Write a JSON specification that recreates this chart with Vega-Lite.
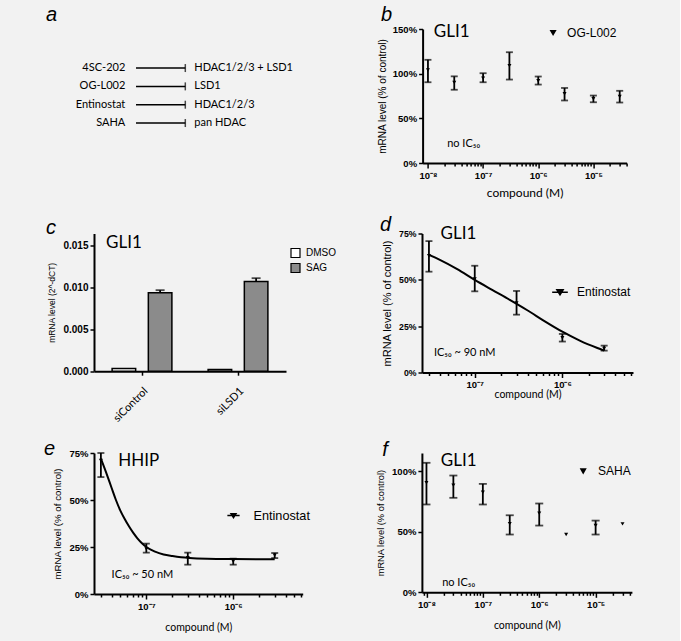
{
"$schema": "https://vega.github.io/schema/vega-lite/v6.json",
"background": "#f2f2f2",
"padding": {"left": 43, "top": 4, "right": 47, "bottom": 9},
"spacing": 15.5,
"resolve": {"scale": {"color": "independent", "x": "independent", "y": "independent"}, "legend": {"color": "independent"}},
"config": {
 "view": {"stroke": null},
 "font": "Liberation Sans",
 "axis": {"domainColor": "black", "domainWidth": 2, "tickColor": "black", "tickWidth": 1.5, "tickSize": 4, "labelFont": "Liberation Sans", "labelFontWeight": "bold", "labelFontSize": 9.5, "labelColor": "black", "labelPadding": 2, "titleFont": "Liberation Sans", "titleFontWeight": "normal", "titleFontSize": 10, "titleColor": "black", "grid": false},
 "legend": {"labelColor": "black", "labelFont": "Liberation Sans", "padding": 0}
},
"datasets": {
 "a": [
  {"compound": "4SC-202", "target": "HDAC1/2/3 + LSD1", "order": 1},
  {"compound": "OG-L002", "target": "LSD1", "order": 2},
  {"compound": "Entinostat", "target": "HDAC1/2/3", "order": 3},
  {"compound": "SAHA", "target": "pan HDAC", "order": 4}
 ],
 "b": [
  {"compound": "OG-L002", "conc": 1e-8, "mean": 104, "lo": 90.4, "hi": 115.5},
  {"compound": "OG-L002", "conc": 3e-8, "mean": 90, "lo": 82, "hi": 97},
  {"compound": "OG-L002", "conc": 1e-7, "mean": 95, "lo": 90.4, "hi": 100.5},
  {"compound": "OG-L002", "conc": 3e-7, "mean": 109, "lo": 93.4, "hi": 124},
  {"compound": "OG-L002", "conc": 1e-6, "mean": 92, "lo": 87.8, "hi": 96.8},
  {"compound": "OG-L002", "conc": 3e-6, "mean": 77.5, "lo": 70, "hi": 84},
  {"compound": "OG-L002", "conc": 1e-5, "mean": 72, "lo": 68, "hi": 75.5},
  {"compound": "OG-L002", "conc": 3e-5, "mean": 74.5, "lo": 67.7, "hi": 80.8}
 ],
 "c": [
  {"group": "siControl", "treatment": "DMSO", "value": 0.00032},
  {"group": "siControl", "treatment": "SAG", "value": 0.00935, "hi": 0.00967},
  {"group": "siLSD1", "treatment": "DMSO", "value": 0.0002},
  {"group": "siLSD1", "treatment": "SAG", "value": 0.0107, "hi": 0.0111}
 ],
 "d": [
  {"compound": "Entinostat", "conc": 3e-8, "mean": 63, "lo": 54.4, "hi": 70.9},
  {"compound": "Entinostat", "conc": 1e-7, "mean": 50.5, "lo": 43.8, "hi": 57.6},
  {"compound": "Entinostat", "conc": 3e-7, "mean": 37.5, "lo": 31.2, "hi": 44},
  {"compound": "Entinostat", "conc": 1e-6, "mean": 18.7, "lo": 16.7, "hi": 20.8},
  {"compound": "Entinostat", "conc": 3e-6, "mean": 13, "lo": 11.8, "hi": 14.5}
 ],
 "dcurve": [
  {"compound": "Entinostat", "conc": 3e-8, "fit": 63.5}, {"compound": "Entinostat", "conc": 4e-8, "fit": 60.8}, {"compound": "Entinostat", "conc": 6.31e-8, "fit": 55.8},
  {"compound": "Entinostat", "conc": 1e-7, "fit": 50}, {"compound": "Entinostat", "conc": 1.58e-7, "fit": 44.6}, {"compound": "Entinostat", "conc": 2.51e-7, "fit": 39.2},
  {"compound": "Entinostat", "conc": 3.98e-7, "fit": 33.6}, {"compound": "Entinostat", "conc": 6.31e-7, "fit": 27.6}, {"compound": "Entinostat", "conc": 1e-6, "fit": 22},
  {"compound": "Entinostat", "conc": 1.58e-6, "fit": 17.2}, {"compound": "Entinostat", "conc": 2.51e-6, "fit": 13.2}, {"compound": "Entinostat", "conc": 3e-6, "fit": 11.8}
 ],
 "e": [
  {"compound": "Entinostat", "conc": 3e-8, "mean": 71, "lo": 62.2, "hi": 75},
  {"compound": "Entinostat", "conc": 1e-7, "mean": 24, "lo": 22, "hi": 26.8},
  {"compound": "Entinostat", "conc": 3e-7, "mean": 19.3, "lo": 15.6, "hi": 22},
  {"compound": "Entinostat", "conc": 1e-6, "mean": 17.4, "lo": 15.6, "hi": 18.8},
  {"compound": "Entinostat", "conc": 3e-6, "mean": 20.6, "lo": 19.1, "hi": 21.8}
 ],
 "ecurve": [
  {"compound": "Entinostat", "conc": 3e-8, "fit": 72}, {"compound": "Entinostat", "conc": 3.55e-8, "fit": 63}, {"compound": "Entinostat", "conc": 3.98e-8, "fit": 56.5},
  {"compound": "Entinostat", "conc": 4.47e-8, "fit": 50}, {"compound": "Entinostat", "conc": 5.01e-8, "fit": 44.5}, {"compound": "Entinostat", "conc": 5.62e-8, "fit": 40},
  {"compound": "Entinostat", "conc": 6.31e-8, "fit": 36}, {"compound": "Entinostat", "conc": 7.08e-8, "fit": 32.5}, {"compound": "Entinostat", "conc": 7.94e-8, "fit": 29.5},
  {"compound": "Entinostat", "conc": 8.91e-8, "fit": 27}, {"compound": "Entinostat", "conc": 1e-7, "fit": 25}, {"compound": "Entinostat", "conc": 1.26e-7, "fit": 22.5},
  {"compound": "Entinostat", "conc": 1.58e-7, "fit": 21}, {"compound": "Entinostat", "conc": 2e-7, "fit": 20.2}, {"compound": "Entinostat", "conc": 2.51e-7, "fit": 19.6},
  {"compound": "Entinostat", "conc": 3.16e-7, "fit": 19.2}, {"compound": "Entinostat", "conc": 5.01e-7, "fit": 18.8}, {"compound": "Entinostat", "conc": 1e-6, "fit": 18.6},
  {"compound": "Entinostat", "conc": 3e-6, "fit": 18.5}
 ],
 "f": [
  {"compound": "SAHA", "conc": 1e-8, "mean": 90.4, "lo": 72.5, "hi": 106.9},
  {"compound": "SAHA", "conc": 3e-8, "mean": 88.4, "lo": 78, "hi": 96.4},
  {"compound": "SAHA", "conc": 1e-7, "mean": 82.6, "lo": 72.5, "hi": 89.5},
  {"compound": "SAHA", "conc": 3e-7, "mean": 56.7, "lo": 47.7, "hi": 63.6},
  {"compound": "SAHA", "conc": 1e-6, "mean": 65.3, "lo": 55.1, "hi": 73.3},
  {"compound": "SAHA", "conc": 3e-6, "mean": 47.7},
  {"compound": "SAHA", "conc": 1e-5, "mean": 55.1, "lo": 47.7, "hi": 59.2},
  {"compound": "SAHA", "conc": 3e-5, "mean": 56.5}
 ]
},
"vconcat": [
 {
  "spacing": 46.6,
  "resolve": {"scale": {"color": "independent", "x": "independent", "y": "independent"}, "legend": {"color": "independent"}},
  "hconcat": [
   {
    "width": 236, "height": 134,
    "layer": [
     {"data": {"name": "a"},
      "mark": {"type": "text", "align": "right", "baseline": "middle", "font": "Lato", "fontSize": 11, "color": "black"},
      "encoding": {"x": {"datum": 1.326, "type": "quantitative", "scale": {"domain": [0, 10], "nice": false, "zero": false}, "axis": null},
       "y": {"field": "order", "type": "quantitative", "scale": {"domain": [6.18, -1.13], "nice": false, "zero": false}, "axis": null},
       "text": {"field": "compound"}}},
     {"data": {"name": "a"},
      "mark": {"type": "rule", "strokeWidth": 1.5, "color": "black"},
      "encoding": {"x": {"datum": 1.78, "type": "quantitative"}, "x2": {"datum": 3.869}, "y": {"field": "order", "type": "quantitative"}}},
     {"data": {"name": "a"},
      "mark": {"type": "tick", "orient": "vertical", "size": 8, "thickness": 1.5, "color": "black"},
      "encoding": {"x": {"datum": 3.869, "type": "quantitative"}, "y": {"field": "order", "type": "quantitative"}}},
     {"data": {"name": "a"},
      "mark": {"type": "text", "align": "left", "baseline": "middle", "font": "Lato", "fontSize": 11, "color": "black"},
      "encoding": {"x": {"datum": 4.25, "type": "quantitative"}, "y": {"field": "order", "type": "quantitative"}, "text": {"field": "target"}}},
     {"data": {"values": [{"t": "a"}]},
      "mark": {"type": "text", "align": "left", "baseline": "alphabetic", "font": "Liberation Sans", "fontStyle": "italic", "fontSize": 20, "color": "black"},
      "encoding": {"x": {"datum": -2.034, "type": "quantitative"}, "y": {"datum": -1.566, "type": "quantitative"}, "text": {"field": "t"}}}
    ]
   },
   {
    "width": 204, "height": 134,
    "resolve": {"scale": {"x": "independent"}},
    "layer": [
     {
      "data": {"name": "b"},
      "encoding": {"x": {"field": "conc", "type": "quantitative", "scale": {"type": "log", "domain": [8e-9, 4e-5], "nice": false},
        "axis": {"title": "compound (M)", "titleFont": "Lato", "titleFontSize": 12, "titlePadding": 8, "labelOverlap": false, "labelFlush": false,
         "values": [1e-8,2e-8,3e-8,4e-8,5e-8,6e-8,7e-8,8e-8,9e-8,1e-7,2e-7,3e-7,4e-7,5e-7,6e-7,7e-7,8e-7,9e-7,1e-6,2e-6,3e-6,4e-6,5e-6,6e-6,7e-6,8e-6,9e-6,1e-5,2e-5,3e-5,4e-5],
         "labelExpr": "datum.value == 1e-8 ? '10⁻⁸' : datum.value == 1e-7 ? '10⁻⁷' : datum.value == 1e-6 ? '10⁻⁶' : datum.value == 1e-5 ? '10⁻⁵' : ''",
         "tickSize": {"condition": {"test": "datum.value == 1e-8 || datum.value == 1e-7 || datum.value == 1e-6 || datum.value == 1e-5", "value": 5}, "value": 3}}}},
      "layer": [
       {"mark": {"type": "point", "shape": "triangle-down", "filled": true, "size": 16, "opacity": 1},
        "encoding": {"y": {"field": "mean", "type": "quantitative", "title": "mRNA level (% of control)", "scale": {"domain": [0, 150], "nice": false},
          "axis": {"title": "mRNA level (% of control)", "values": [0,25,50,75,100,125,150], "labelExpr": "datum.value + '%'", "titlePadding": 5}},
         "color": {"field": "compound", "type": "nominal", "scale": {"range": ["black"]},
          "legend": {"title": null, "orient": "none", "legendX": 124.5, "legendY": -2, "symbolType": "triangle-down", "symbolSize": 50, "labelFontSize": 12, "labelOffset": 8}}}},
       {"mark": {"type": "rule", "strokeWidth": 1.8, "color": "black"},
        "encoding": {"y": {"field": "lo", "type": "quantitative", "title": "mRNA level (% of control)"}, "y2": {"field": "hi"}}},
       {"mark": {"type": "tick", "orient": "horizontal", "size": 7, "thickness": 1.8, "color": "black"},
        "encoding": {"y": {"field": "lo", "type": "quantitative", "title": "mRNA level (% of control)"}}},
       {"mark": {"type": "tick", "orient": "horizontal", "size": 7, "thickness": 1.8, "color": "black"},
        "encoding": {"y": {"field": "hi", "type": "quantitative", "title": "mRNA level (% of control)"}}}
      ]
     },
     {
      "layer": [
       {"data": {"values": [{"t": "GLI1"}]},
        "mark": {"type": "text", "align": "left", "baseline": "middle", "font": "Lato", "fontSize": 17, "color": "black"},
        "encoding": {"x": {"datum": -7.893, "type": "quantitative", "scale": {"domain": [-8.0969, -4.3979], "nice": false, "zero": false}, "axis": null}, "y": {"datum": 146.6, "type": "quantitative"}, "text": {"field": "t"}}},
       {"data": {"values": [{"t": "no IC₅₀"}]},
        "mark": {"type": "text", "align": "left", "baseline": "middle", "font": "Lato", "fontSize": 11, "color": "black"},
        "encoding": {"x": {"datum": -7.652, "type": "quantitative"}, "y": {"datum": 21.3, "type": "quantitative"}, "text": {"field": "t"}}},
       {"data": {"values": [{"t": "b"}]},
        "mark": {"type": "text", "align": "left", "baseline": "alphabetic", "font": "Liberation Sans", "fontStyle": "italic", "fontSize": 20, "color": "black"},
        "encoding": {"x": {"datum": -8.853, "type": "quantitative"}, "y": {"datum": 158.96, "type": "quantitative"}, "text": {"field": "t"}}}
      ]
     }
    ]
   }
  ]
 },
 {
  "spacing": 43,
  "resolve": {"scale": {"color": "independent", "x": "independent", "y": "independent"}, "legend": {"color": "independent"}},
  "hconcat": [
   {
    "width": 192, "height": 137.7,
    "resolve": {"scale": {"x": "independent"}},
    "layer": [
     {
      "layer": [
       {"data": {"name": "c"},
        "mark": {"type": "bar", "stroke": "black", "strokeWidth": 1.5},
        "encoding": {
         "x": {"field": "group", "type": "nominal", "sort": ["siControl", "siLSD1"], "scale": {"paddingInner": 0, "paddingOuter": 0},
          "axis": {"title": null, "labelAngle": -45, "labelFont": "Lato", "labelFontSize": 11, "labelFontWeight": "normal", "labelPadding": 9.7}},
         "xOffset": {"field": "treatment", "type": "nominal", "sort": ["DMSO", "SAG"], "scale": {"paddingInner": 0.35, "paddingOuter": 0.5}},
         "y": {"field": "value", "type": "quantitative", "scale": {"domain": [0, 0.016432], "nice": false},
          "axis": {"title": "mRNA level (2^-dCT)", "titleFontSize": 8.5, "values": [0, 0.005, 0.01, 0.015], "format": ".3f", "labelFontSize": 10, "titlePadding": 6}},
         "color": {"field": "treatment", "type": "nominal", "scale": {"domain": ["DMSO", "SAG"], "range": ["white", "#8b8b8b"]},
          "legend": {"title": null, "orient": "none", "legendX": 196, "legendY": 14, "symbolType": "square", "symbolSize": 81, "symbolStrokeColor": "black", "symbolStrokeWidth": 1.2, "labelFontSize": 10, "labelOffset": 5, "rowPadding": 0,
           "encode": {"symbols": {"update": {"stroke": {"value": "black"}, "strokeWidth": {"value": 1.2}}}}}}
        }},
       {"data": {"name": "c"}, "transform": [{"filter": "isValid(datum.hi)"}],
        "mark": {"type": "rule", "strokeWidth": 1.8, "color": "black"},
        "encoding": {"x": {"field": "group", "type": "nominal"}, "xOffset": {"field": "treatment", "type": "nominal"},
         "y": {"field": "value", "type": "quantitative"}, "y2": {"field": "hi"}}},
       {"data": {"name": "c"}, "transform": [{"filter": "isValid(datum.hi)"}],
        "mark": {"type": "tick", "orient": "horizontal", "size": 9, "thickness": 1.8, "color": "black"},
        "encoding": {"x": {"field": "group", "type": "nominal"}, "xOffset": {"field": "treatment", "type": "nominal"},
         "y": {"field": "hi", "type": "quantitative"}}},
       {"data": {"values": [{"t": "GLI1"}]},
        "mark": {"type": "text", "align": "center", "baseline": "middle", "font": "Lato", "fontSize": 17, "color": "black"},
        "encoding": {"x": {"datum": "siControl", "type": "nominal"}, "xOffset": {"datum": "DMSO", "type": "nominal"}, "y": {"datum": 0.01527, "type": "quantitative"}, "text": {"field": "t"}}}
      ]
     },
     {"data": {"values": [{"t": "c"}]},
      "mark": {"type": "text", "align": "left", "baseline": "alphabetic", "font": "Liberation Sans", "fontStyle": "italic", "fontSize": 20, "color": "black"},
      "encoding": {"x": {"datum": -2.5, "type": "quantitative", "scale": {"domain": [0, 10], "nice": false, "zero": false}, "axis": null}, "y": {"datum": 0.016408, "type": "quantitative"}, "text": {"field": "t"}}}
    ]
   },
   {
    "width": 211, "height": 139,
    "resolve": {"scale": {"x": "independent"}},
    "layer": [
     {
      "data": {"name": "d"},
      "encoding": {"x": {"field": "conc", "type": "quantitative", "scale": {"type": "log", "domain": [2.5e-8, 6.4e-6], "nice": false},
        "axis": {"title": "compound (M)", "titleFont": "Lato", "titleFontSize": 10.5, "titlePadding": 0, "labelOverlap": false, "labelFlush": false,
         "values": [3e-8,4e-8,5e-8,6e-8,7e-8,8e-8,9e-8,1e-7,2e-7,3e-7,4e-7,5e-7,6e-7,7e-7,8e-7,9e-7,1e-6,2e-6,3e-6,4e-6,5e-6,6e-6],
         "labelExpr": "datum.value == 1e-7 ? '10⁻⁷' : datum.value == 1e-6 ? '10⁻⁶' : ''",
         "tickSize": {"condition": {"test": "datum.value == 1e-7 || datum.value == 1e-6", "value": 5}, "value": 3}}}},
      "layer": [
       {"data": {"name": "dcurve"},
        "mark": {"type": "line", "color": "black", "strokeWidth": 2, "interpolate": "monotone"},
        "encoding": {"y": {"field": "fit", "type": "quantitative", "title": "mRNA level (% of control)", "scale": {"domain": [0, 75], "nice": false},
          "axis": {"title": "mRNA level (% of control)", "titleFontSize": 11, "labelFontSize": 8.7, "values": [0,25,50,75], "labelExpr": "datum.value + '%'", "titlePadding": 6}},
         "color": {"field": "compound", "type": "nominal", "scale": {"range": ["black"]},
          "legend": {"title": null, "orient": "none", "legendX": 129, "legendY": 49.7, "symbolType": "M-1,0H1M-0.4,-0.3H0.4L0,0.35Z", "symbolSize": 245, "symbolStrokeWidth": 1.5, "symbolStrokeColor": "black", "symbolFillColor": "black", "labelFontSize": 12, "labelOffset": 8,
           "encode": {"symbols": {"update": {"stroke": {"value": "black"}, "strokeWidth": {"value": 1.5}, "fill": {"value": "black"}}}}}}}},
       {"mark": {"type": "rule", "strokeWidth": 1.8, "color": "black"},
        "encoding": {"y": {"field": "lo", "type": "quantitative", "title": "mRNA level (% of control)"}, "y2": {"field": "hi"}}},
       {"mark": {"type": "tick", "orient": "horizontal", "size": 7, "thickness": 1.8, "color": "black"},
        "encoding": {"y": {"field": "lo", "type": "quantitative", "title": "mRNA level (% of control)"}}},
       {"mark": {"type": "tick", "orient": "horizontal", "size": 7, "thickness": 1.8, "color": "black"},
        "encoding": {"y": {"field": "hi", "type": "quantitative", "title": "mRNA level (% of control)"}}},
       {"mark": {"type": "point", "shape": "triangle-down", "filled": true, "size": 16, "opacity": 1, "color": "black"},
        "encoding": {"y": {"field": "mean", "type": "quantitative", "title": "mRNA level (% of control)"}}}
      ]
     },
     {
      "layer": [
       {"data": {"values": [{"t": "GLI1"}]},
        "mark": {"type": "text", "align": "left", "baseline": "middle", "font": "Lato", "fontSize": 17, "color": "black"},
        "encoding": {"x": {"datum": -7.39, "type": "quantitative", "scale": {"domain": [-7.6021, -5.1938], "nice": false, "zero": false}, "axis": null}, "y": {"datum": 74.6, "type": "quantitative"}, "text": {"field": "t"}}},
       {"data": {"values": [{"t": "IC₅₀ ~ 90 nM"}]},
        "mark": {"type": "text", "align": "left", "baseline": "middle", "font": "Lato", "fontSize": 11, "color": "black"},
        "encoding": {"x": {"datum": -7.466, "type": "quantitative"}, "y": {"datum": 10.6, "type": "quantitative"}, "text": {"field": "t"}}},
       {"data": {"values": [{"t": "d"}]},
        "mark": {"type": "text", "align": "left", "baseline": "alphabetic", "font": "Liberation Sans", "fontStyle": "italic", "fontSize": 20, "color": "black"},
        "encoding": {"x": {"datum": -8.0816, "type": "quantitative"}, "y": {"datum": 76.4, "type": "quantitative"}, "text": {"field": "t"}}}
      ]
     }
    ]
   }
  ]
 },
 {
  "spacing": 64.9,
  "resolve": {"scale": {"color": "independent", "x": "independent", "y": "independent"}, "legend": {"color": "independent"}},
  "hconcat": [
   {
    "width": 208.7, "height": 141,
    "resolve": {"scale": {"x": "independent"}},
    "layer": [
     {
      "data": {"name": "e"},
      "encoding": {"x": {"field": "conc", "type": "quantitative", "scale": {"type": "log", "domain": [2.5e-8, 6.3e-6], "nice": false},
        "axis": {"title": "compound (M)", "titleFont": "Lato", "titleFontSize": 10.5, "titlePadding": 12, "labelOverlap": false, "labelFlush": false,
         "values": [3e-8,4e-8,5e-8,6e-8,7e-8,8e-8,9e-8,1e-7,2e-7,3e-7,4e-7,5e-7,6e-7,7e-7,8e-7,9e-7,1e-6,2e-6,3e-6,4e-6,5e-6,6e-6],
         "labelExpr": "datum.value == 1e-7 ? '10⁻⁷' : datum.value == 1e-6 ? '10⁻⁶' : ''",
         "tickSize": {"condition": {"test": "datum.value == 1e-7 || datum.value == 1e-6", "value": 5}, "value": 3}}}},
      "layer": [
       {"data": {"name": "ecurve"},
        "mark": {"type": "line", "color": "black", "strokeWidth": 2, "interpolate": "monotone"},
        "encoding": {"y": {"field": "fit", "type": "quantitative", "title": "mRNA level (% of control)", "scale": {"domain": [0, 75], "nice": false},
          "axis": {"title": "mRNA level (% of control)", "titleFontSize": 9.7, "values": [0,25,50,75], "labelExpr": "datum.value + '%'", "titlePadding": 6}},
         "color": {"field": "compound", "type": "nominal", "scale": {"range": ["black"]},
          "legend": {"title": null, "orient": "none", "legendX": 132.5, "legendY": 55.5, "symbolType": "M-1,0H1M-0.4,-0.3H0.4L0,0.35Z", "symbolSize": 150, "symbolStrokeWidth": 1.5, "symbolStrokeColor": "black", "symbolFillColor": "black", "labelFontSize": 12.7, "labelOffset": 13,
           "encode": {"symbols": {"update": {"stroke": {"value": "black"}, "strokeWidth": {"value": 1.5}, "fill": {"value": "black"}}}}}}}},
       {"mark": {"type": "rule", "strokeWidth": 1.8, "color": "black"},
        "encoding": {"y": {"field": "lo", "type": "quantitative", "title": "mRNA level (% of control)"}, "y2": {"field": "hi"}}},
       {"mark": {"type": "tick", "orient": "horizontal", "size": 7, "thickness": 1.8, "color": "black"},
        "encoding": {"y": {"field": "lo", "type": "quantitative", "title": "mRNA level (% of control)"}}},
       {"mark": {"type": "tick", "orient": "horizontal", "size": 7, "thickness": 1.8, "color": "black"},
        "encoding": {"y": {"field": "hi", "type": "quantitative", "title": "mRNA level (% of control)"}}},
       {"mark": {"type": "point", "shape": "triangle-down", "filled": true, "size": 16, "opacity": 1, "color": "black"},
        "encoding": {"y": {"field": "mean", "type": "quantitative", "title": "mRNA level (% of control)"}}}
      ]
     },
     {
      "layer": [
       {"data": {"values": [{"t": "HHIP"}]},
        "mark": {"type": "text", "align": "left", "baseline": "middle", "font": "Lato", "fontSize": 17, "color": "black"},
        "encoding": {"x": {"datum": -7.324, "type": "quantitative", "scale": {"domain": [-7.6021, -5.2007], "nice": false, "zero": false}, "axis": null}, "y": {"datum": 70.9, "type": "quantitative"}, "text": {"field": "t"}}},
       {"data": {"values": [{"t": "IC₅₀ ~ 50 nM"}]},
        "mark": {"type": "text", "align": "left", "baseline": "middle", "font": "Lato", "fontSize": 11, "color": "black"},
        "encoding": {"x": {"datum": -7.40, "type": "quantitative"}, "y": {"datum": 9.9, "type": "quantitative"}, "text": {"field": "t"}}},
       {"data": {"values": [{"t": "e"}]},
        "mark": {"type": "text", "align": "left", "baseline": "alphabetic", "font": "Liberation Sans", "fontStyle": "italic", "fontSize": 20, "color": "black"},
        "encoding": {"x": {"datum": -8.1775, "type": "quantitative"}, "y": {"datum": 73.72, "type": "quantitative"}, "text": {"field": "t"}}}
      ]
     }
    ]
   },
   {
    "width": 210, "height": 139.3,
    "resolve": {"scale": {"x": "independent"}},
    "layer": [
     {
      "data": {"name": "f"},
      "encoding": {"x": {"field": "conc", "type": "quantitative", "scale": {"type": "log", "domain": [8.3e-9, 4.4e-5], "nice": false},
        "axis": {"title": "compound (M)", "titleFont": "Lato", "titleFontSize": 10.5, "titlePadding": 12, "labelOverlap": false, "labelFlush": false,
         "values": [9e-9,1e-8,2e-8,3e-8,4e-8,5e-8,6e-8,7e-8,8e-8,9e-8,1e-7,2e-7,3e-7,4e-7,5e-7,6e-7,7e-7,8e-7,9e-7,1e-6,2e-6,3e-6,4e-6,5e-6,6e-6,7e-6,8e-6,9e-6,1e-5,2e-5,3e-5,4e-5],
         "labelExpr": "datum.value == 1e-8 ? '10⁻⁸' : datum.value == 1e-7 ? '10⁻⁷' : datum.value == 1e-6 ? '10⁻⁶' : datum.value == 1e-5 ? '10⁻⁵' : ''",
         "tickSize": {"condition": {"test": "datum.value == 1e-8 || datum.value == 1e-7 || datum.value == 1e-6 || datum.value == 1e-5", "value": 5}, "value": 3}}}},
      "layer": [
       {"mark": {"type": "point", "shape": "triangle-down", "filled": true, "size": 16, "opacity": 1},
        "encoding": {"y": {"field": "mean", "type": "quantitative", "title": "mRNA level (% of control)", "scale": {"domain": [0, 115], "nice": false},
          "axis": {"title": "mRNA level (% of control)", "titleFontSize": 9.3, "values": [0,25,50,75,100], "labelExpr": "datum.value + '%'", "titlePadding": 6}},
         "color": {"field": "compound", "type": "nominal", "scale": {"range": ["black"]},
          "legend": {"title": null, "orient": "none", "legendX": 155.3, "legendY": 12.4, "symbolType": "triangle-down", "symbolSize": 50, "labelFontSize": 12, "labelOffset": 8.8}}}},
       {"mark": {"type": "rule", "strokeWidth": 1.8, "color": "black"},
        "encoding": {"y": {"field": "lo", "type": "quantitative", "title": "mRNA level (% of control)"}, "y2": {"field": "hi"}}},
       {"mark": {"type": "tick", "orient": "horizontal", "size": 8, "thickness": 1.8, "color": "black"},
        "encoding": {"y": {"field": "lo", "type": "quantitative", "title": "mRNA level (% of control)"}}},
       {"mark": {"type": "tick", "orient": "horizontal", "size": 8, "thickness": 1.8, "color": "black"},
        "encoding": {"y": {"field": "hi", "type": "quantitative", "title": "mRNA level (% of control)"}}}
      ]
     },
     {
      "layer": [
       {"data": {"values": [{"t": "GLI1"}]},
        "mark": {"type": "text", "align": "left", "baseline": "middle", "font": "Lato", "fontSize": 17, "color": "black"},
        "encoding": {"x": {"datum": -7.745, "type": "quantitative", "scale": {"domain": [-8.0809, -4.3565], "nice": false, "zero": false}, "axis": null}, "y": {"datum": 108.2, "type": "quantitative"}, "text": {"field": "t"}}},
       {"data": {"values": [{"t": "no IC₅₀"}]},
        "mark": {"type": "text", "align": "left", "baseline": "middle", "font": "Lato", "fontSize": 11, "color": "black"},
        "encoding": {"x": {"datum": -7.722, "type": "quantitative"}, "y": {"datum": 7.7, "type": "quantitative"}, "text": {"field": "t"}}},
       {"data": {"values": [{"t": "f"}]},
        "mark": {"type": "text", "align": "left", "baseline": "alphabetic", "font": "Liberation Sans", "fontStyle": "italic", "fontSize": 20, "color": "black"},
        "encoding": {"x": {"datum": -8.785, "type": "quantitative"}, "y": {"datum": 112.52, "type": "quantitative"}, "text": {"field": "t"}}}
      ]
     }
    ]
   }
  ]
 }
]
}
